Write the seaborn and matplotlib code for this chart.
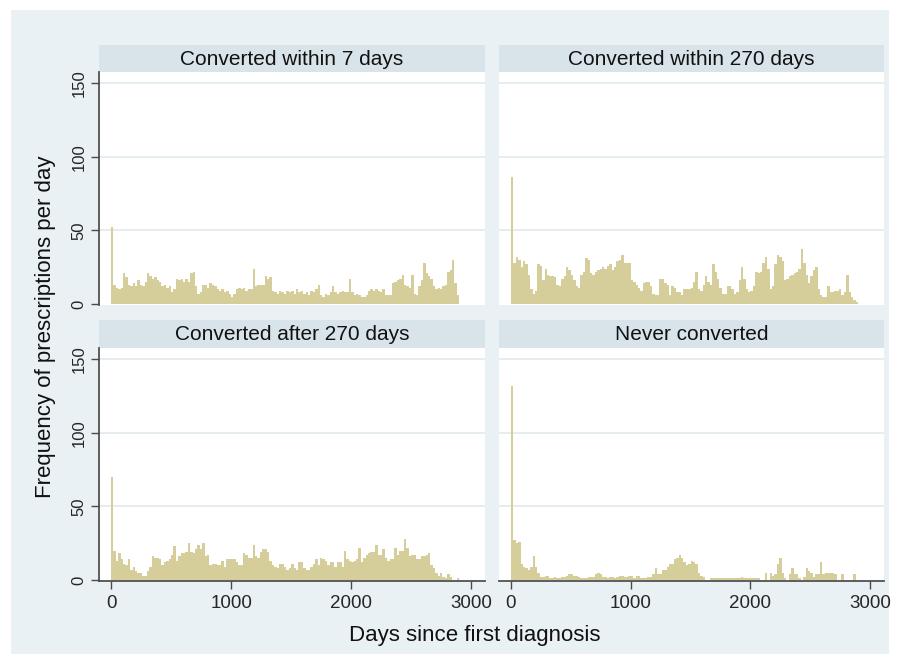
import numpy as np
import pandas as pd
import matplotlib
matplotlib.use("Agg")
import matplotlib.pyplot as plt
import seaborn as sns

# bin width in days (histogram of prescriptions by days since first diagnosis)
BIN_WIDTH = 20

groups = [
    "Converted within 7 days",
    "Converted within 270 days",
    "Converted after 270 days",
    "Never converted",
]

within_7 = [
    52, 13, 11, 10, 11, 21, 18, 13, 12, 14, 12, 16, 13, 12, 15, 21, 19, 17, 18, 16,
    15, 12, 13, 11, 12, 8, 10, 17, 16, 17, 15, 17, 15, 21, 22, 12, 7, 8, 13, 13,
    11, 14, 13, 12, 10, 9, 10, 8, 9, 7, 5, 7, 10, 11, 10, 11, 9, 10, 10, 24,
    12, 13, 13, 13, 19, 17, 18, 9, 8, 7, 9, 8, 7, 9, 8, 9, 7, 10, 8, 9,
    7, 8, 6, 9, 8, 10, 13, 6, 5, 7, 6, 8, 12, 8, 7, 8, 9, 8, 8, 17,
    8, 6, 7, 6, 5, 5, 6, 9, 10, 9, 10, 9, 8, 10, 6, 6, 6, 14, 15, 16,
    17, 20, 13, 12, 11, 20, 7, 6, 12, 16, 28, 21, 19, 17, 12, 10, 11, 10, 12, 13,
    22, 23, 30, 14, 6,
]

within_270 = [
    86, 28, 32, 30, 25, 29, 27, 20, 10, 7, 9, 27, 26, 16, 24, 20, 19, 19, 18, 13,
    12, 17, 19, 25, 23, 20, 16, 12, 11, 20, 22, 31, 30, 21, 20, 22, 23, 24, 25, 24,
    26, 27, 23, 25, 29, 30, 33, 28, 28, 28, 16, 15, 13, 11, 9, 14, 15, 15, 12, 7,
    6, 6, 17, 17, 14, 13, 6, 12, 11, 8, 8, 6, 10, 10, 10, 11, 15, 22, 10, 9,
    13, 19, 15, 13, 27, 22, 17, 11, 7, 7, 12, 12, 10, 7, 8, 16, 25, 17, 10, 8,
    9, 12, 22, 21, 22, 28, 32, 24, 10, 12, 27, 33, 32, 29, 16, 17, 19, 20, 21, 22,
    24, 37, 28, 20, 14, 19, 23, 25, 10, 6, 5, 5, 12, 8, 8, 9, 9, 10, 6, 8,
    20, 8, 5, 3, 1,
]

after_270 = [
    70, 20, 13, 18, 14, 11, 10, 14, 7, 9, 6, 5, 5, 3, 3, 6, 9, 16, 15, 15,
    14, 10, 12, 13, 14, 17, 23, 13, 16, 18, 18, 19, 25, 19, 18, 21, 24, 21, 25, 16,
    17, 10, 11, 11, 10, 10, 13, 9, 14, 14, 14, 14, 12, 10, 10, 18, 17, 15, 15, 24,
    16, 15, 19, 21, 21, 19, 13, 10, 9, 8, 11, 11, 9, 7, 8, 11, 8, 7, 12, 12,
    8, 7, 7, 9, 11, 14, 10, 15, 14, 13, 10, 12, 12, 9, 12, 12, 9, 20, 14, 13,
    12, 13, 14, 22, 12, 15, 17, 18, 19, 19, 24, 17, 17, 21, 15, 13, 14, 14, 22, 17,
    20, 20, 28, 22, 16, 17, 17, 14, 14, 16, 16, 17, 18, 10, 8, 5, 3, 5, 2, 1,
    4, 2, 0, 0, 1,
]

never = [
    132, 27, 25, 26, 11, 9, 8, 7, 9, 16, 9, 5, 2, 2, 3, 3, 1, 1, 2, 1,
    1, 2, 2, 3, 4, 4, 3, 3, 2, 1, 1, 1, 2, 2, 2, 4, 5, 4, 2, 2,
    1, 2, 2, 1, 2, 3, 3, 2, 2, 3, 3, 1, 3, 3, 1, 1, 1, 2, 2, 4,
    8, 4, 4, 7, 7, 9, 11, 11, 14, 15, 17, 15, 12, 10, 11, 13, 12, 11, 5, 3,
    2, 0, 0, 1, 1, 1, 1, 1, 1, 1, 1, 1, 1, 1, 1, 1, 2, 1, 1, 1,
    1, 1, 1, 1, 0, 0, 5, 0, 5, 3, 4, 11, 15, 5, 1, 0, 4, 8, 4, 4,
    1, 0, 2, 8, 6, 5, 2, 4, 4, 12, 4, 5, 5, 5, 5, 4, 0, 0, 4, 0,
    0, 0, 0, 4, 0,
]

series = [within_7, within_270, after_270, never]

BAR = "#d5cd9a"
STRIP = "#d9e4ea"
OUTER = "#eaf1f4"
GRID = "#e6edf0"
AXIS = "#4a4a4a"

W, H = 899, 664


def frac(x0, y0, x1, y1):
    # pixel box (top-left origin) -> figure rect
    return [x0 / W, 1 - y1 / H, (x1 - x0) / W, (y1 - y0) / H]


def main():
    rows = []
    for g, vals in zip(groups, series):
        for i, v in enumerate(vals):
            rows.append({"group": g, "day": i * BIN_WIDTH + BIN_WIDTH / 2, "count": v})
    df = pd.DataFrame(rows)
    last_edge = len(within_7) * BIN_WIDTH

    sns.set_theme(style="white")
    plt.rcParams["font.family"] = ["Liberation Sans", "DejaVu Sans"]

    fig = plt.figure(figsize=(W / 100, H / 100), dpi=100, facecolor="white")
    fig.patches.append(plt.Rectangle((11 / W, 1 - 654 / H), 878 / W, 644 / H,
                                     transform=fig.transFigure, facecolor=OUTER,
                                     edgecolor="none", zorder=-10))

    xcols = [(99, 485), (499, 884)]
    yrows = [(45, 72, 305), (320, 348, 581)]

    for k, g in enumerate(groups):
        r, c = divmod(k, 2)
        x0, x1 = xcols[c]
        s0, p0, p1 = yrows[r]

        sax = fig.add_axes(frac(x0, s0, x1, p0))
        sax.set_facecolor(STRIP)
        sax.set_xticks([])
        sax.set_yticks([])
        for sp in sax.spines.values():
            sp.set_visible(False)
        sax.text(0.5, 0.47, g, ha="center", va="center", fontsize=15,
                 color="#111111", transform=sax.transAxes)

        ax = fig.add_axes(frac(x0, p0, x1, p1))
        ax.set_facecolor("white")
        sub = df[df["group"] == g]
        sns.histplot(data=sub, x="day", weights="count", binwidth=BIN_WIDTH,
                     binrange=(0, last_edge), ax=ax,
                     color=BAR, alpha=1, linewidth=0, element="bars")
        ax.set_xlim(-100, 3115)
        ax.set_ylim(-0.7, 157.5)
        for yv in [50, 100, 150]:
            ax.axhline(yv, color=GRID, lw=1.4, zorder=0)
        ax.set_xlabel("")
        ax.set_ylabel("")
        for sp in ["top", "right"]:
            ax.spines[sp].set_visible(False)

        ax.spines["left"].set_visible(c == 0)
        ax.spines["bottom"].set_visible(r == 1)
        ax.spines["left"].set_color(AXIS)
        ax.spines["bottom"].set_color(AXIS)

        ax.set_yticks([0, 50, 100, 150])
        ax.set_xticks([0, 1000, 2000, 3000])
        if c == 0:
            ax.tick_params(axis="y", left=True, length=6, width=1, color=AXIS,
                           labelsize=12, pad=3)
            for lab in ax.get_yticklabels():
                lab.set_rotation(90)
                lab.set_va("center")
        else:
            ax.tick_params(axis="y", left=False, labelleft=False)
        if r == 1:
            ax.tick_params(axis="x", bottom=True, length=6, width=1, color=AXIS,
                           labelsize=13.5, pad=4)
        else:
            ax.tick_params(axis="x", bottom=False, labelbottom=False)

    fig.text(46 / W, 1 - 327 / H, "Frequency of prescriptions per day",
             rotation=90, ha="center", va="center", fontsize=16, color="#111111")
    fig.text(475 / W, 1 - 635 / H, "Days since first diagnosis",
             ha="center", va="center", fontsize=16, color="#111111")

    fig.savefig("out.png", dpi=100, facecolor="white")


if __name__ == "__main__":
    main()
